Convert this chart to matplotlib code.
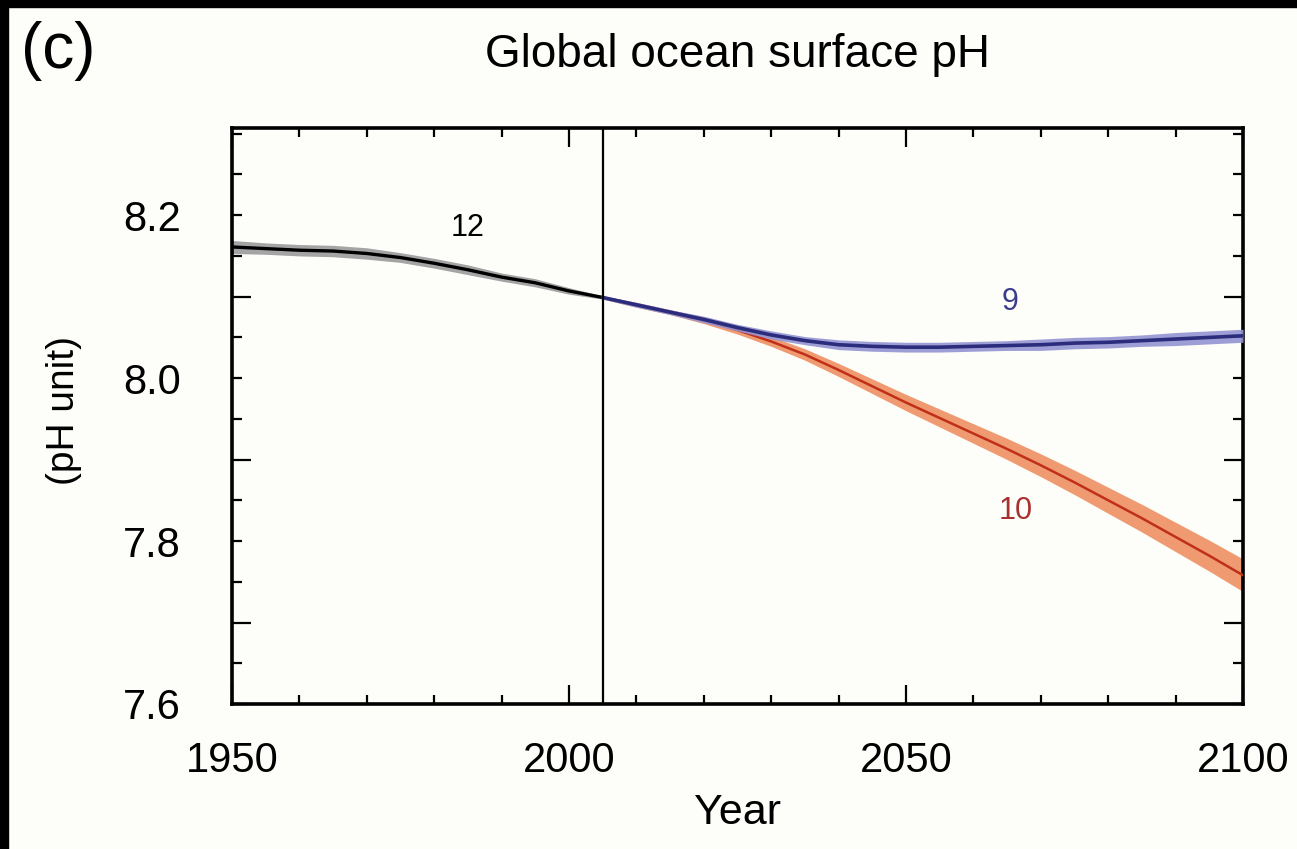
import numpy as np
import matplotlib
matplotlib.use("Agg")
from matplotlib import pyplot as plt, rcParams as rcP
from matplotlib.ticker import FixedLocator, FuncFormatter
from matplotlib.patches import Rectangle

rcP["font.family"] = ["Liberation Sans", "DejaVu Sans"]

# Исторический период (12 моделей)
hist_years = [1950, 1955, 1960, 1965, 1970, 1975, 1980, 1985, 1990, 1995, 2000, 2005]
hist_ph = [8.161, 8.159, 8.157, 8.156, 8.153, 8.148, 8.141, 8.133, 8.124, 8.117, 8.107, 8.099]
hist_spread = [0.008, 0.007, 0.007, 0.007, 0.007, 0.006, 0.006, 0.006, 0.005, 0.005, 0.004, 0.002]

# Сценарии (шаг 5 лет)
proj_years = [2005, 2010, 2015, 2020, 2025, 2030, 2035, 2040, 2045, 2050, 2055,
              2060, 2065, 2070, 2075, 2080, 2085, 2090, 2095, 2100]
low_ph = [8.099, 8.090, 8.081, 8.072, 8.062, 8.053, 8.046, 8.041, 8.039, 8.038, 8.038,
          8.039, 8.040, 8.041, 8.043, 8.044, 8.046, 8.048, 8.050, 8.052]
low_spread = [0.002, 0.003, 0.003, 0.004, 0.004, 0.005, 0.005, 0.006, 0.006, 0.006, 0.006,
              0.006, 0.006, 0.007, 0.007, 0.007, 0.007, 0.008, 0.008, 0.008]
high_ph = [8.099, 8.090, 8.081, 8.071, 8.059, 8.045, 8.029, 8.010, 7.990, 7.970, 7.951,
           7.932, 7.913, 7.893, 7.872, 7.850, 7.828, 7.805, 7.782, 7.758]
high_spread = [0.002, 0.003, 0.003, 0.004, 0.005, 0.006, 0.007, 0.008, 0.009, 0.010, 0.011,
               0.012, 0.013, 0.014, 0.015, 0.016, 0.017, 0.018, 0.019, 0.020]

# Подписи с числом моделей
labels = [("12", 1985.0, 8.184, "black"),
          ("9", 2065.4, 8.093, "#3c3c8c"),
          ("10", 2066.2, 7.837, "#a83030")]

fig = plt.figure(figsize=(12.97, 8.49), dpi=100, facecolor="#fdfdf9")
ax = fig.add_axes([0.1789, 0.1708, 0.7795, 0.6784])
ax.set_facecolor("#fdfdf9")

# Черные поля по краям скана
fig.patches.append(Rectangle((0, 0.992), 1, 0.008, transform=fig.transFigure, color="black", zorder=0))
fig.patches.append(Rectangle((0, 0), 0.006, 1, transform=fig.transFigure, color="black", zorder=0))

hy = np.array(hist_years)
hp = np.array(hist_ph)
hs = np.array(hist_spread)
py = np.array(proj_years)

ax.fill_between(hy, hp - hs, hp + hs, color="#a4a4a4", lw=0, zorder=2)
ax.plot(hy, hp, color="black", lw=2.4, zorder=3)

lp, ls = np.array(low_ph), np.array(low_spread)
hp2, hs2 = np.array(high_ph), np.array(high_spread)
ax.fill_between(py, hp2 - hs2, hp2 + hs2, color="#ef9a70", lw=0, zorder=2)
ax.fill_between(py, lp - ls, lp + ls, color="#9494d4", lw=0, alpha=0.9, zorder=4)
ax.plot(py, lp, color="#2c2c7c", lw=2.6, zorder=5)
ax.plot(py, hp2, color="#c03018", lw=1.8, zorder=3)

ax.axvline(2005, color="black", lw=1.6, zorder=6)

for txt, x, y, c in labels:
    ax.text(x, y, txt, color=c, fontsize=22, ha="center", va="center")

ax.set_xlim(1950, 2100)
ax.set_ylim(7.6, 8.307)

ax.set_xticks([1950, 2000, 2050, 2100])
ax.set_xticks(np.arange(1950, 2101, 10), minor=True)

# Длинные риски на 7.7, 7.9, 8.1, короткие через 0.05, подписи через 0.2
ax.yaxis.set_major_locator(FixedLocator([7.7, 7.9, 8.1]))
ax.yaxis.set_major_formatter(FuncFormatter(lambda v, p: ""))
ax.yaxis.set_minor_locator(FixedLocator(np.round(np.arange(7.6, 8.31, 0.05), 2)))
ax.yaxis.set_minor_formatter(FuncFormatter(
    lambda v, p: "%.1f" % v if abs(v * 5 - round(v * 5)) < 1e-6 else ""))

ax.tick_params(axis="x", which="both", direction="in", top=True, labelsize=30, pad=27, width=1.6)
ax.tick_params(axis="x", which="major", length=14)
ax.tick_params(axis="x", which="minor", length=6.5)
ax.tick_params(axis="y", which="both", direction="in", right=True, width=1.6)
ax.tick_params(axis="y", which="major", length=14)
ax.tick_params(axis="y", which="minor", length=7, labelsize=30, pad=37)

for s in ax.spines.values():
    s.set_linewidth(2.6)

ax.set_xlabel("Year", fontsize=31, labelpad=8)
ax.set_ylabel("(pH unit)", fontsize=28)
ax.yaxis.set_label_coords(-0.148, 0.51)
ax.set_title("Global ocean surface pH", fontsize=33, pad=44)

fig.text(0.016, 0.94, "(c)", fontsize=46, va="center", ha="left")

plt.savefig("out.png", dpi=100, facecolor=fig.get_facecolor())
